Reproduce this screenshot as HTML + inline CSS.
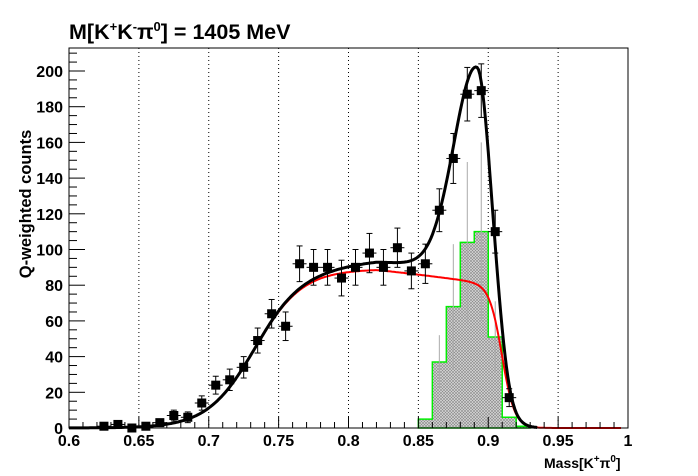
<!DOCTYPE html>
<html><head><meta charset="utf-8"><style>
body{margin:0;background:#fff;}
svg{display:block;font-family:"Liberation Sans",Arial,sans-serif;font-weight:bold;}
</style></head><body>
<svg id="s" width="698" height="476" viewBox="0 0 698 476" xmlns="http://www.w3.org/2000/svg">
<defs>
<pattern id="h" width="3" height="3" patternUnits="userSpaceOnUse">
<rect width="3" height="3" fill="#d8d8d8"/>
<path d="M0 0L3 3M3 0L0 3" stroke="#888" stroke-width="0.6"/>
</pattern>
</defs>
<rect x="0" y="0" width="698" height="476" fill="#fff"/>
<g id="g"></g>
<text x="69" y="39" font-size="21.5">M[K<tspan dy="-8" font-size="13">+</tspan><tspan dy="8">K</tspan><tspan dy="-8" font-size="13">-</tspan><tspan dy="8">π</tspan><tspan dy="-8" font-size="13">0</tspan><tspan dy="8">] = 1405 MeV</tspan></text>
<text x="544" y="468" font-size="14">Mass[K<tspan dy="-6" font-size="10">+</tspan><tspan dy="6">π</tspan><tspan dy="-6" font-size="10">0</tspan><tspan dy="6">]</tspan></text>
<text transform="translate(31,204) rotate(-90)" font-size="16.5" text-anchor="middle">Q-weighted counts</text>
</svg>
<script>
var L=69,R=628,T=48,B=428;
function X(v){return L+(v-0.6)/0.4*(R-L);}
function Y(v){return B-v*1.785;}
var s='';
for(var i=1;i<8;i++){var x=X(0.6+0.05*i);s+='<line x1="'+x+'" y1="'+T+'" x2="'+x+'" y2="'+B+'" stroke="#000" stroke-width="1" stroke-dasharray="1,3"/>';}
var hb=[[0.85,5],[0.86,37],[0.87,68],[0.88,104],[0.89,110],[0.9,51],[0.91,6],[0.92,1]];
var p='M'+X(0.85)+' '+B;
hb.forEach(function(b){p+=' L'+X(b[0])+' '+Y(b[1])+' L'+X(b[0]+0.01)+' '+Y(b[1]);});
p+=' L'+X(0.93)+' '+B+' Z';
s+='<path d="'+p+'" fill="url(#h)" stroke="#00ee00" stroke-width="1.5"/>';
var he=[[0.865,15],[0.875,35],[0.885,45],[0.895,50],[0.905,20]];
he.forEach(function(e,k){var b=hb[k+1];var x=X(e[0]);s+='<line x1="'+x+'" y1="'+Y(b[1]-e[1])+'" x2="'+x+'" y2="'+Y(b[1]+e[1])+'" stroke="#aaa" stroke-width="1"/>';});
function red(x){var b=89/(1+Math.exp(-(x-0.733)/0.017));if(x>0.82)b-=(x-0.82)*100;return b/(1+Math.exp((x-0.910)/0.0045));}
function blk(x){var sg=x<0.892?0.0165:0.0088;var extra=6/(1+Math.exp(-(x-0.8)/0.02))/(1+Math.exp((x-0.905)/0.004));return red(x)+extra+116*Math.exp(-Math.pow(x-0.892,2)/(2*sg*sg));}
function path(f,a,b){var d='';for(var x=a;x<=b+1e-9;x+=0.001){d+=(d?' L':'M')+X(x).toFixed(1)+' '+Math.min(B,Y(f(x))).toFixed(1);}return d;}
s+='<path d="'+path(red,0.6,0.995)+'" fill="none" stroke="#ff0000" stroke-width="2"/>';
s+='<path d="'+path(blk,0.6,0.935)+'" fill="none" stroke="#000" stroke-width="3"/>';
var d=[[0.625,1,2],[0.635,2,2],[0.645,0,1],[0.655,1,2],[0.665,3,2],[0.675,7,3],[0.685,6,3],[0.695,14,4],[0.705,24,5],[0.715,27,6],[0.725,34,6],[0.735,49,7],[0.745,64,8],[0.755,57,8],[0.765,92,10],[0.775,90,10],[0.785,90,10],[0.795,84,10],[0.805,90,10],[0.815,98,11],[0.825,90,10],[0.835,101,11],[0.845,88,10],[0.855,92,11],[0.865,122,12],[0.875,151,14],[0.885,187,15],[0.895,189,15],[0.905,110,12],[0.915,17,5]];
d.forEach(function(q){var x=X(q[0]),y=Y(q[1]);
s+='<line x1="'+(x-7)+'" y1="'+y+'" x2="'+(x+7)+'" y2="'+y+'" stroke="#000"/>';
s+='<line x1="'+x+'" y1="'+Y(q[1]+q[2])+'" x2="'+x+'" y2="'+Math.min(B,Y(q[1]-q[2]))+'" stroke="#000"/>';
s+='<line x1="'+(x-3)+'" y1="'+Y(q[1]+q[2])+'" x2="'+(x+3)+'" y2="'+Y(q[1]+q[2])+'" stroke="#000"/>';
if(q[1]-q[2]>0)s+='<line x1="'+(x-3)+'" y1="'+Y(q[1]-q[2])+'" x2="'+(x+3)+'" y2="'+Y(q[1]-q[2])+'" stroke="#000"/>';
s+='<rect x="'+(x-4.5)+'" y="'+(y-4.5)+'" width="9" height="9" fill="#000"/>';});
s+='<rect x="'+L+'" y="'+T+'" width="'+(R-L)+'" height="'+(B-T)+'" fill="none" stroke="#000" stroke-width="1"/>';
for(var i=0;i<=40;i++){var x=X(0.6+0.01*i);var len=(i%5==0)?11:6;s+='<line x1="'+x+'" y1="'+B+'" x2="'+x+'" y2="'+(B-len)+'" stroke="#000"/>';}
var xl=['0.6','0.65','0.7','0.75','0.8','0.85','0.9','0.95','1'];
xl.forEach(function(t,i){s+='<text x="'+X(0.6+0.05*i)+'" y="446" font-size="16" text-anchor="middle">'+t+'</text>';});
for(var v=0;v<=210;v+=5){var y=Y(v);var len=(v%20==0)?16:8;s+='<line x1="'+L+'" y1="'+y+'" x2="'+(L+len)+'" y2="'+y+'" stroke="#000"/>';if(v%20==0)s+='<text x="63" y="'+(y+6)+'" font-size="16" text-anchor="end">'+v+'</text>';}
document.getElementById('g').innerHTML=s;
</script>
</body></html>
